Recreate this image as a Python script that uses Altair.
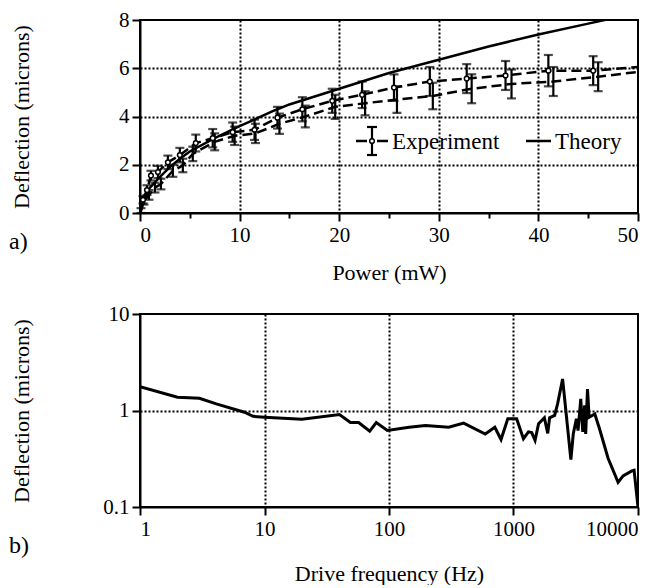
import altair as alt
import pandas as pd

FONT = "'Liberation Serif', 'Times New Roman', 'DejaVu Serif', serif"

# ---------- panel a) data ----------
# Experiment, series A (open circles)
A_P = [0.3, 0.7, 1.1, 1.8, 2.8, 4.0, 5.6, 7.3, 9.3, 11.5, 13.8, 16.3, 19.3, 22.3, 25.5, 29.1, 32.8, 36.7, 41.0, 45.5]
A_D = [0.55, 0.95, 1.55, 1.7, 2.1, 2.4, 2.9, 3.1, 3.35, 3.45, 3.95, 4.3, 4.65, 4.9, 5.2, 5.45, 5.57, 5.7, 5.9, 5.9]
A_E = [0.15, 0.2, 0.2, 0.25, 0.28, 0.3, 0.35, 0.38, 0.4, 0.42, 0.45, 0.5, 0.5, 0.55, 0.55, 0.6, 0.6, 0.6, 0.65, 0.6]
A_END = 6.05  # dashed line value at 50 mW

# Experiment, series B
B_P = [0.1, 0.4, 0.9, 1.5, 2.1, 3.3, 4.3, 5.3, 7.5, 9.5, 11.6, 14.0, 16.6, 19.6, 22.6, 25.8, 29.4, 33.3, 37.3, 41.5, 46.0]
B_D = [0.1, 0.5, 0.75, 1.05, 1.2, 1.75, 1.97, 2.45, 2.95, 3.2, 3.3, 3.7, 4.0, 4.4, 4.55, 4.7, 4.85, 5.15, 5.35, 5.45, 5.65]
B_E = [0.1, 0.15, 0.2, 0.2, 0.22, 0.25, 0.28, 0.3, 0.35, 0.38, 0.4, 0.42, 0.45, 0.5, 0.5, 0.55, 0.55, 0.6, 0.6, 0.6, 0.6]
B_END = 5.85

# Theory
T_P = [0, 0.5, 1, 2, 3, 4, 5, 7.5, 10, 13.5, 15, 20, 25, 30, 35, 40, 45, 50]
T_D = [0, 0.7, 1.05, 1.5, 1.9, 2.25, 2.55, 3.1, 3.6, 4.25, 4.5, 5.15, 5.8, 6.35, 6.9, 7.4, 7.85, 8.3]

# ---------- panel b) data ----------
F_HZ = [1, 2, 3, 4.1, 6.9, 8.1, 10, 20, 40, 49, 57, 70, 79, 97, 145, 196, 302, 398, 593, 708, 794, 900,
        1060, 1202, 1318, 1400, 1490, 1590, 1770, 1883, 1950, 2140, 2260, 2480, 2890, 3020, 3200, 3300,
        3470, 3600, 3730, 3800, 3930, 4050, 4500, 4900, 5750, 6920, 7590, 8850, 9300, 10000]
F_D = [1.77, 1.37, 1.34, 1.17, 0.96, 0.87, 0.85, 0.81, 0.91, 0.75, 0.75, 0.61, 0.75, 0.62, 0.67, 0.70, 0.67, 0.74, 0.57, 0.67, 0.50, 0.82,
       0.82, 0.51, 0.60, 0.59, 0.49, 0.73, 0.84, 0.58, 0.84, 0.89, 1.17, 2.12, 0.31, 0.57, 0.82, 0.62,
       1.32, 0.60, 1.13, 0.57, 1.67, 0.85, 0.92, 0.65, 0.32, 0.18, 0.21, 0.235, 0.24, 0.1]

X_TICKS_A = [0, 5, 10, 15, 20, 25, 30, 35, 40, 45, 50]
Y_TICKS_A = [0, 1, 2, 3, 4, 5, 6, 7, 8]
X_TICKS_B = [1, 10, 100, 1000, 10000]
Y_TICKS_B = [0.1, 1, 10]

W = 498
H1 = 193
H2 = 193
EXT = 48

# ---------- frames ----------
lineA = pd.DataFrame({"P": [0] + A_P + [50], "D": [0] + A_D + [A_END]})
lineB = pd.DataFrame({"P": [0] + B_P + [50], "D": [0] + B_D + [B_END]})
ptsA = pd.DataFrame({"P": A_P, "D": A_D, "lo": [d - e for d, e in zip(A_D, A_E)], "hi": [d + e for d, e in zip(A_D, A_E)]})
ptsB = pd.DataFrame({"P": B_P, "D": B_D, "lo": [max(d - e, 0) for d, e in zip(B_D, B_E)], "hi": [d + e for d, e in zip(B_D, B_E)]})
theory = pd.DataFrame({"P": T_P, "D": T_D})
freq = pd.DataFrame({"f": F_HZ, "D": F_D})

xs_a = alt.Scale(domain=[0, 50], nice=False)
ys_a = alt.Scale(domain=[0, 8], nice=False)

x_axis_a = alt.Axis(
    values=X_TICKS_A,
    labelExpr="datum.value % 10 === 0 ? datum.label : ''",
    tickSize={"condition": {"test": "datum.value % 10 === 0", "value": 8}, "value": 5},
    gridOpacity={"condition": {"test": "datum.value % 10 === 0 && datum.value > 0 && datum.value < 50", "value": 1}, "value": 0},
    title="Power (mW)", titlePadding=17, labelPadding=3,
)
y_axis_a = alt.Axis(
    values=Y_TICKS_A,
    labelExpr="datum.value % 2 === 0 ? datum.label : ''",
    tickSize={"condition": {"test": "datum.value % 2 === 0", "value": 8}, "value": 5},
    gridOpacity={"condition": {"test": "datum.value % 2 === 0 && datum.value > 0 && datum.value < 8", "value": 1}, "value": 0},
    title="Deflection (microns)", titlePadding=59, minExtent=EXT, maxExtent=EXT, labelPadding=3,
)

X = alt.X("P:Q", scale=xs_a, axis=x_axis_a)
Y = alt.Y("D:Q", scale=ys_a, axis=y_axis_a)

dash = [10, 5]
l_theory = alt.Chart(theory).mark_line(color="black", strokeWidth=2.5, clip=True).encode(x=X, y=Y)
l_a = alt.Chart(lineA).mark_line(color="black", strokeWidth=2.5, strokeDash=dash, clip=True).encode(x="P:Q", y="D:Q")
l_b = alt.Chart(lineB).mark_line(color="black", strokeWidth=2.5, strokeDash=dash, clip=True).encode(x="P:Q", y="D:Q")


def errbars(df):
    bars = alt.Chart(df).mark_rule(color="black", strokeWidth=2.2).encode(x="P:Q", y="lo:Q", y2="hi:Q")
    cap_lo = alt.Chart(df).mark_tick(color="black", orient="horizontal", size=9, thickness=2.2).encode(x="P:Q", y="lo:Q")
    cap_hi = alt.Chart(df).mark_tick(color="black", orient="horizontal", size=9, thickness=2.2).encode(x="P:Q", y="hi:Q")
    return bars + cap_lo + cap_hi


circ = alt.Chart(ptsA).mark_point(shape="circle", filled=True, fill="white", stroke="black", strokeWidth=1.5, size=22, opacity=1).encode(x="P:Q", y="D:Q")

# legend (drawn inside plot)
leg_y = 121
lg = pd.DataFrame({"k": [0]})
leg = (
    alt.Chart(lg).mark_rule(color="black", strokeWidth=2.5).encode(x=alt.value(216), x2=alt.value(227), y=alt.value(leg_y))
    + alt.Chart(lg).mark_rule(color="black", strokeWidth=2.5).encode(x=alt.value(237), x2=alt.value(248), y=alt.value(leg_y))
    + alt.Chart(lg).mark_rule(color="black", strokeWidth=2.2).encode(x=alt.value(232), y=alt.value(leg_y - 14), y2=alt.value(leg_y + 14))
    + alt.Chart(lg).mark_rule(color="black", strokeWidth=2.2).encode(x=alt.value(227), x2=alt.value(237), y=alt.value(leg_y - 14))
    + alt.Chart(lg).mark_rule(color="black", strokeWidth=2.2).encode(x=alt.value(227), x2=alt.value(237), y=alt.value(leg_y + 14))
    + alt.Chart(lg).mark_point(shape="circle", filled=True, fill="white", stroke="black", strokeWidth=1.5, size=22, opacity=1).encode(x=alt.value(232), y=alt.value(leg_y))
    + alt.Chart(lg).mark_text(text="Experiment", font=FONT, fontSize=23, align="left", baseline="middle").encode(x=alt.value(252), y=alt.value(leg_y + 1))
    + alt.Chart(lg).mark_rule(color="black", strokeWidth=2.5).encode(x=alt.value(386), x2=alt.value(411), y=alt.value(leg_y))
    + alt.Chart(lg).mark_text(text="Theory", font=FONT, fontSize=23, align="left", baseline="middle").encode(x=alt.value(415), y=alt.value(leg_y + 1))
)

lab_a = alt.Chart(lg).mark_text(text="a)", font=FONT, fontSize=24, align="left", baseline="middle").encode(x=alt.value(-131), y=alt.value(222))

top = alt.layer(l_theory, l_a, l_b, errbars(ptsA), errbars(ptsB), circ, leg, lab_a).properties(width=W, height=H1)

# ---------- panel b ----------
x_axis_b = alt.Axis(
    values=X_TICKS_B, format="~g", tickSize=8,
    gridOpacity={"condition": {"test": "datum.value > 1 && datum.value < 10000", "value": 1}, "value": 0},
    title="Drive frequency (Hz)", titlePadding=24, labelPadding=3,
)
y_axis_b = alt.Axis(
    values=Y_TICKS_B, format="~g", tickSize=8,
    gridOpacity={"condition": {"test": "datum.value == 1", "value": 1}, "value": 0},
    title="Deflection (microns)", titlePadding=59, minExtent=EXT, maxExtent=EXT, labelPadding=3,
)
bottom_line = alt.Chart(freq).mark_line(color="black", strokeWidth=3, clip=True).encode(
    x=alt.X("f:Q", scale=alt.Scale(type="log", domain=[1, 10000], nice=False), axis=x_axis_b),
    y=alt.Y("D:Q", scale=alt.Scale(type="log", domain=[0.1, 10], nice=False), axis=y_axis_b),
)
lab_b = alt.Chart(lg).mark_text(text="b)", font=FONT, fontSize=24, align="left", baseline="middle").encode(x=alt.value(-131), y=alt.value(232))
bottom = alt.layer(bottom_line, lab_b).properties(width=W, height=H2)

chart = (
    alt.vconcat(top, bottom, spacing=18)
    .properties(padding={"left": 0, "top": 0, "right": 0, "bottom": 0})
    .configure_view(stroke="black", strokeWidth=2)
    .configure_axis(
        labelFont=FONT, titleFont=FONT, labelFontSize=21, titleFontSize=22,
        titleFontWeight="normal", labelColor="black", titleColor="black",
        domainColor="black", domainWidth=2, tickColor="black", tickWidth=2,
        gridColor="black", gridDash=[2, 2], gridWidth=2,
    )
)

chart.save("out.html", embed_options={"renderer": "svg", "actions": False})
